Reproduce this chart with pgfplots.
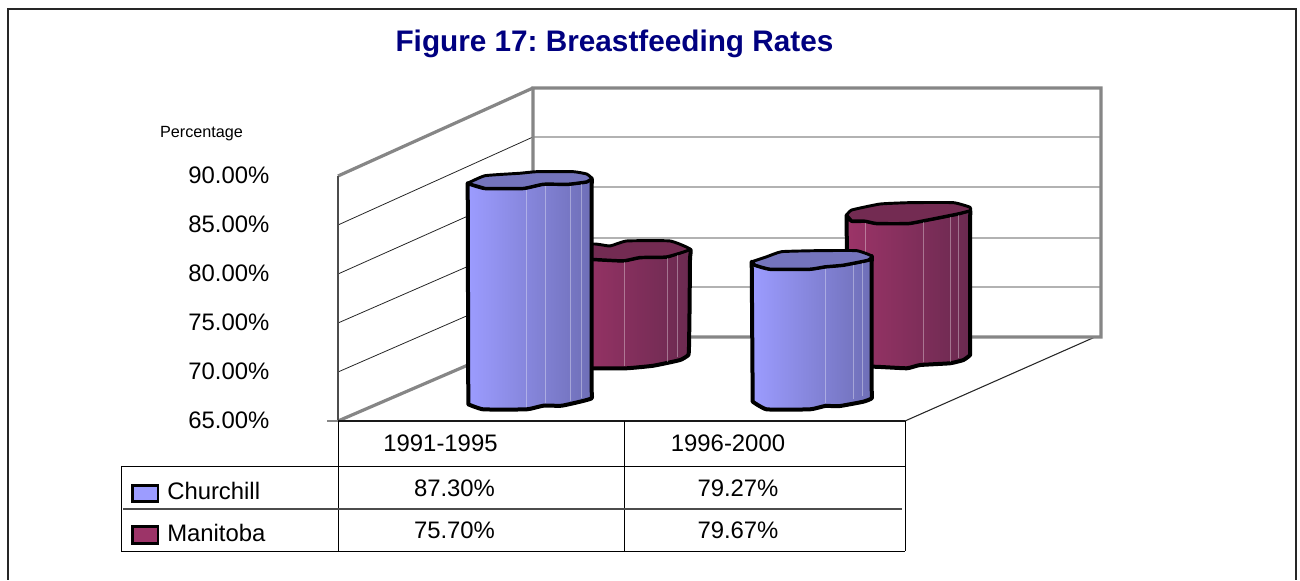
\documentclass[border=0pt]{standalone}
\usepackage{pgfplots}
\pgfplotsset{compat=1.18}
\usepackage{fontspec}
\setmainfont{Liberation Sans}
\definecolor{cLight}{HTML}{9C9CFF}
\definecolor{cDark}{HTML}{6E6EB6}
\definecolor{cTop}{HTML}{7474BC}
\definecolor{mLight}{HTML}{9C3468}
\definecolor{mDark}{HTML}{6A2A50}
\definecolor{mTop}{HTML}{732B52}
\definecolor{wallgray}{HTML}{868686}
\definecolor{titleblue}{HTML}{000080}
\newcommand{\tf}{\fontsize{17.9pt}{20pt}\selectfont}
\pgfplotsset{
  wall/.style={draw=wallgray,line width=2.4pt,line join=miter},
  grid3d/.style={draw=black!85,line width=0.6pt},
  tab/.style={draw=black,line width=0.7pt},
  cyl/.style={draw=black,line width=3pt,line join=round,smooth,tension=0.25},
  rim/.style={draw=black,line width=2.2pt,line join=round,smooth,tension=0.25},
  glint/.style={draw=white,opacity=0.35,line width=0.7pt},
}
\begin{document}
\begin{tikzpicture}
\begin{axis}[
  scale only axis,width=975pt,height=435pt,
  xmin=0,xmax=1300,ymin=48.776,ymax=107.959,
  clip=false,axis line style={draw=none},
  tick style={draw=none},
  ytick={65,70,75,80,85,90},
  /pgf/number format/assume math mode=true,
  yticklabel={\pgfmathprintnumber[fixed,fixed zerofill,precision=2]{\tick}\%},
  yticklabel style={anchor=east,xshift=205.5pt,font=\tf,yshift=0.6pt},
  xtick={440.5,728},xticklabels={1991-1995,1996-2000},
  xticklabel style={anchor=center,font=\tf,yshift=102.8pt},
]
% chart frame (open at the bottom)
\addplot[draw=black!85,line width=1.5pt] coordinates {(8,48.776)(8,106.99)(1296,106.99)(1296,48.776)};
\node[font=\fontsize{22.3pt}{25pt}\selectfont\bfseries\frenchspacing,text=titleblue] at (axis cs:614.5,103.47) {Figure 17: Breastfeeding Rates};
\node[font=\fontsize{12.15pt}{14pt}\selectfont,anchor=center] at (axis cs:201.5,94.3) {Percentage};
% gridlines: front wall, back wall
\addplot[grid3d] coordinates {(338,70)(533,78.67)(1101,78.67)};
\addplot[grid3d] coordinates {(338,75)(533,83.67)(1101,83.67)};
\addplot[grid3d] coordinates {(338,80)(533,88.88)(1101,88.88)};
\addplot[grid3d] coordinates {(338,85)(533,93.98)(1101,93.98)};
% floor
\addplot[draw=black!85,line width=0.8pt] coordinates {(905,65)(1095,73.57)};
% walls
\addplot[wall] coordinates {(338,65)(533,73.57)(1101,73.57)(1101,98.98)(533,98.98)(533,73.57)};
\addplot[wall] coordinates {(338,90)(533,98.98)};
\addplot[draw=black!70,line width=0.9pt] coordinates {(338,65)(338,90)};
% Manitoba 1991-1995 (75.70%)
\addplot[cyl,left color=mLight,right color=mDark] coordinates {(570,81.50)(593.3,81.50)(623.3,81.36)(640,81.70)(666.7,81.76)(690,82.52)(690,81.5)(689.5,76)(689,72.6)(688.3,71.73)(680,71.22)(653.3,70.64)(626.7,70.38)(593.3,70.38)(570,70.38)} -- cycle;
\addplot[rim,fill=mTop] coordinates {(570,82.20)(593.3,83.06)(610,82.86)(626.7,83.37)(670,83.37)(690,82.52)(666.7,81.76)(640,81.70)(623.3,81.36)(593.3,81.50)(570,81.50)} -- cycle;
\addplot[glint] coordinates {(624.3,81.2)(624.3,70.6)};
\addplot[glint] coordinates {(667.7,81.6)(667.7,71)};
\addplot[glint] coordinates {(677,81.9)(677,71.5)};
% Churchill 1991-1995 (87.30%)
\addplot[cyl,left color=cLight,right color=cDark] coordinates {(467.7,89.26)(485,88.75)(523.3,88.75)(543.3,89.18)(568.3,89.18)(586.7,89.42)(591.7,89.76)(591.7,88.8)(591.7,78)(591.7,68.2)(591.7,67.32)(580,66.97)(561.7,66.56)(543.3,66.56)(526.7,66.19)(483.3,66.19)(468.3,66.70)} -- cycle;
\addplot[rim,fill=cTop] coordinates {(467.7,89.26)(485,90.03)(520,90.28)(536.7,90.44)(573.3,90.44)(586.7,90.20)(591.7,89.76)(586.7,89.42)(568.3,89.18)(543.3,89.18)(523.3,88.75)(485,88.75)} -- cycle;
\addplot[glint] coordinates {(526.7,88.6)(526.7,66.4)};
\addplot[glint] coordinates {(545,89)(545,66.8)};
\addplot[glint] coordinates {(570,89)(570,67)};
\addplot[glint] coordinates {(581,89.2)(581,67.3)};
% Manitoba 1996-2000 (79.67%)
\addplot[cyl,left color=mLight,right color=mDark] coordinates {(846.7,86.02)(851.7,85.41)(865,85.41)(876.7,85.17)(908.3,85.17)(926.7,85.51)(956.7,86.12)(970,86.46)(970,85.5)(970,78)(970,72.6)(970,71.73)(963.3,71.22)(950,70.89)(920,70.71)(906.7,70.38)(873.3,70.54)(847,70.31)} -- cycle;
\addplot[rim,fill=mTop] coordinates {(846.7,86.02)(851.7,86.53)(880,87.14)(910,87.28)(953.3,87.28)(970,86.81)(970,86.46)(956.7,86.12)(926.7,85.51)(908.3,85.17)(876.7,85.17)(865,85.41)(851.7,85.41)} -- cycle;
\addplot[glint] coordinates {(923,85.3)(923,71)};
\addplot[glint] coordinates {(865,85.2)(865,80.5)};
\addplot[glint] coordinates {(950,85.8)(950,71)};
\addplot[glint] coordinates {(958,86)(958,71.4)};
% Churchill 1996-2000 (79.27%)
\addplot[cyl,left color=cLight,right color=cDark] coordinates {(751.7,81.25)(755,80.92)(770,80.51)(810,80.51)(825,80.75)(843.3,80.92)(868.3,81.43)(871.7,81.84)(871.7,80.9)(871.7,74)(871.7,68.2)(871.7,67.32)(863.3,66.97)(840,66.53)(825,66.53)(810,66.19)(766.7,66.19)(752.7,66.97)} -- cycle;
\addplot[rim,fill=cTop] coordinates {(751.7,81.25)(766.7,81.76)(781.7,82.28)(816.7,82.38)(856.7,82.38)(871.7,81.84)(868.3,81.43)(843.3,80.92)(825,80.75)(810,80.51)(770,80.51)(755,80.92)} -- cycle;
\addplot[glint] coordinates {(825,80.5)(825,66.8)};
\addplot[glint] coordinates {(853,80.9)(853,67.2)};
\addplot[glint] coordinates {(862,81.1)(862,67.5)};
% data table
\addplot[draw=wallgray,line width=1.5pt] coordinates {(327,65)(338,65)};
\addplot[draw=black!90,line width=1.5pt] coordinates {(338,65)(905,65)};
\addplot[tab] coordinates {(338,65)(338,51.73)};
\addplot[tab] coordinates {(624.3,65)(624.3,51.73)};
\addplot[tab] coordinates {(905,65)(905,51.73)};
\addplot[tab] coordinates {(121,60.41)(905,60.41)};
\addplot[draw=black!70,line width=0.8pt] coordinates {(123,56.02)(902,56.02)};
\addplot[tab] coordinates {(121,60.41)(121,51.73)(905,51.73)};
% legend keys
\addplot[draw=black,line width=2.2pt,fill=cLight] coordinates {(132.5,58.45)(158,58.45)(158,56.8)(132.5,56.8)} -- cycle;
\addplot[draw=black,line width=2.2pt,fill=mLight] coordinates {(132.5,54.2)(158,54.2)(158,52.5)(132.5,52.5)} -- cycle;
\node[font=\tf,anchor=west,inner sep=0pt] at (axis cs:167,57.86) {Churchill};
\node[font=\tf,anchor=west,inner sep=0pt] at (axis cs:167,53.57) {Manitoba};
\node[font=\tf] at (axis cs:454.5,58.16) {87.30\%};
\node[font=\tf] at (axis cs:738,58.16) {79.27\%};
\node[font=\tf] at (axis cs:454.5,53.88) {75.70\%};
\node[font=\tf] at (axis cs:738,53.88) {79.67\%};
\end{axis}
\end{tikzpicture}
\end{document}
